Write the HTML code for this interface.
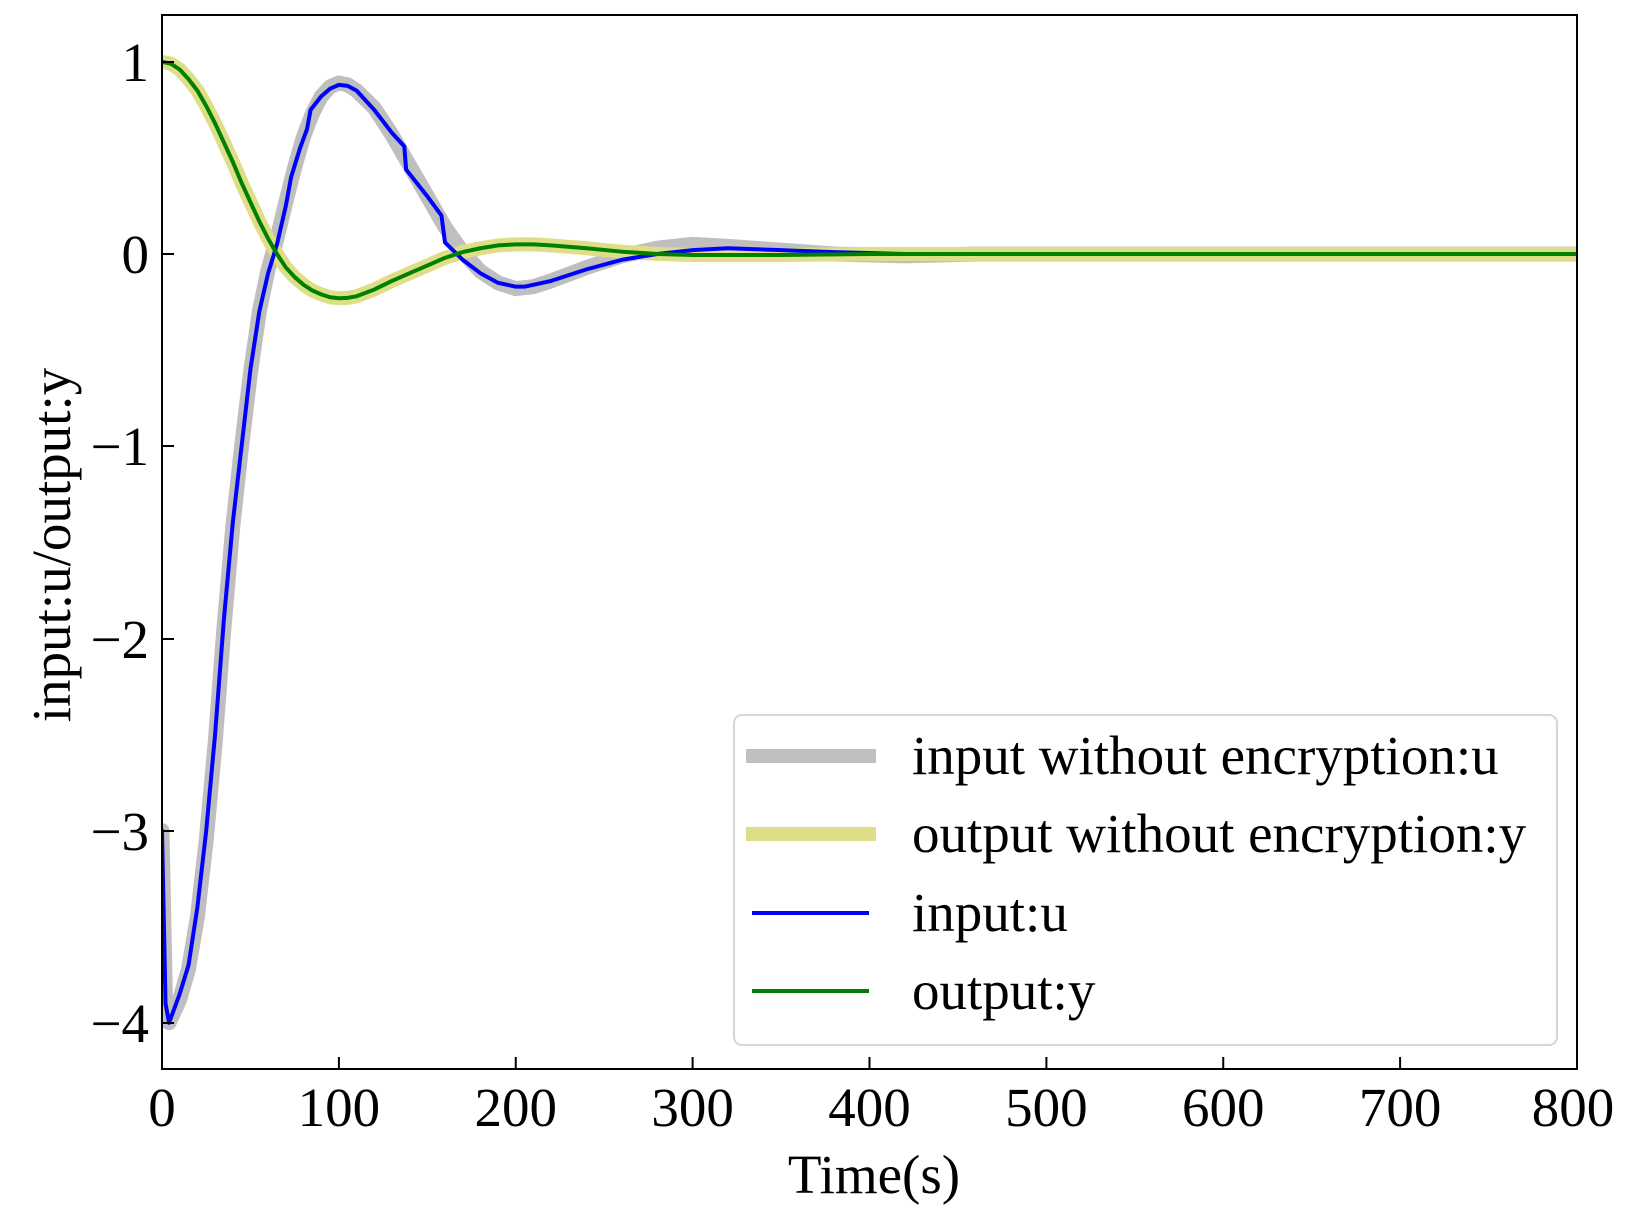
<!DOCTYPE html>
<html><head><meta charset="utf-8"><style>
html,body{margin:0;padding:0;background:#fff;}
svg{display:block;font-family:"Liberation Serif",serif;}
</style></head><body>
<svg width="1633" height="1220" viewBox="0 0 1633 1220" xmlns="http://www.w3.org/2000/svg">
<rect width="1633" height="1220" fill="#fff"/>
<defs><clipPath id="c"><rect x="162" y="15" width="1415" height="1054"/></clipPath></defs>
<g clip-path="url(#c)" fill="none" stroke-linejoin="round" stroke-linecap="round">
<g transform="translate(162,254) scale(1.76875,-192.2)">
<polyline vector-effect="non-scaling-stroke" stroke="#bfbfbf" stroke-width="15" points="0,-3 2,-3.9 4,-4.0 10,-3.88 15,-3.72 20,-3.45 25,-3.05 30,-2.55 35,-1.95 40,-1.42 45,-1.0 50,-0.62 55,-0.3 60,-0.08 65,0.08 70,0.27 75,0.45 80,0.61 85,0.73 90,0.82 95,0.87 100,0.89 105,0.88 110,0.85 120,0.76 130,0.62 140,0.46 150,0.3 160,0.14 170,0.01 180,-0.09 190,-0.15 200,-0.18 210,-0.17 220,-0.14 240,-0.07 260,-0.01 280,0.03 300,0.05 320,0.04 350,0.02 380,0.0 420,-0.01 460,0 800,0"/>
<polyline vector-effect="non-scaling-stroke" stroke="#dede88" stroke-width="14" points="0,1 5,0.99 10,0.96 15,0.91 20,0.85 25,0.77 30,0.68 35,0.58 40,0.48 45,0.37 50,0.27 55,0.17 60,0.08 65,0.0 70,-0.07 75,-0.12 80,-0.16 85,-0.19 90,-0.21 95,-0.225 100,-0.23 105,-0.228 110,-0.22 120,-0.185 130,-0.14 140,-0.1 150,-0.06 160,-0.02 170,0.01 180,0.03 190,0.045 200,0.05 210,0.05 220,0.045 240,0.03 260,0.012 280,0.0 300,-0.005 350,-0.005 400,0 800,0"/>
<polyline vector-effect="non-scaling-stroke" stroke="#0000ff" stroke-width="4" points="0,-3 2,-3.9 4,-4.0 10,-3.85 15,-3.7 20,-3.4 25,-3.0 30,-2.5 35,-1.9 40,-1.4 45,-1.0 50,-0.6 55,-0.3 60,-0.1 65,0.05 70,0.25 73,0.4 78,0.55 82,0.65 84,0.75 90,0.82 95,0.86 100,0.88 105,0.875 110,0.85 120,0.75 130,0.63 137,0.56 138,0.44 150,0.3 158,0.2 160,0.06 170,-0.03 180,-0.1 190,-0.15 200,-0.17 205,-0.17 220,-0.14 240,-0.08 260,-0.03 280,0.0 300,0.02 320,0.03 350,0.02 380,0.01 420,0.0 800,0"/>
<polyline vector-effect="non-scaling-stroke" stroke="#008000" stroke-width="4" points="0,1 5,0.99 10,0.96 15,0.91 20,0.85 25,0.77 30,0.68 35,0.58 40,0.48 45,0.37 50,0.27 55,0.17 60,0.08 65,0.0 70,-0.07 75,-0.12 80,-0.16 85,-0.19 90,-0.21 95,-0.225 100,-0.23 105,-0.228 110,-0.22 120,-0.185 130,-0.14 140,-0.1 150,-0.06 160,-0.02 170,0.01 180,0.03 190,0.045 200,0.05 210,0.05 220,0.045 240,0.03 260,0.012 280,0.0 300,-0.005 350,-0.005 400,0 800,0"/>
</g></g>
<rect x="162" y="15" width="1415" height="1054" fill="none" stroke="#000" stroke-width="2"/>
<g stroke="#000" stroke-width="2">
<line x1="162" y1="62" x2="174" y2="62"/><line x1="162" y1="254" x2="174" y2="254"/><line x1="162" y1="446" x2="174" y2="446"/><line x1="162" y1="639" x2="174" y2="639"/><line x1="162" y1="831" x2="174" y2="831"/><line x1="162" y1="1023" x2="174" y2="1023"/>
<line x1="338.9" y1="1069" x2="338.9" y2="1057"/><line x1="515.75" y1="1069" x2="515.75" y2="1057"/><line x1="692.6" y1="1069" x2="692.6" y2="1057"/><line x1="869.5" y1="1069" x2="869.5" y2="1057"/><line x1="1046.4" y1="1069" x2="1046.4" y2="1057"/><line x1="1223.25" y1="1069" x2="1223.25" y2="1057"/><line x1="1400.1" y1="1069" x2="1400.1" y2="1057"/>
</g>
<g font-size="55" fill="#000" text-anchor="end">
<text x="149" y="81">1</text><text x="149" y="273">0</text><text x="149" y="465">−1</text><text x="149" y="658">−2</text><text x="149" y="850">−3</text><text x="149" y="1042">−4</text>
</g>
<g font-size="55" fill="#000" text-anchor="middle">
<text x="162" y="1126">0</text><text x="338.9" y="1126">100</text><text x="515.75" y="1126">200</text><text x="692.6" y="1126">300</text><text x="869.5" y="1126">400</text><text x="1046.4" y="1126">500</text><text x="1223.25" y="1126">600</text><text x="1400.1" y="1126">700</text><text x="1573" y="1126">800</text>
<text x="874" y="1193">Time(s)</text>
<text transform="translate(70,545) rotate(-90)">input:u/output:y</text>
</g>
<rect x="734" y="715" width="823" height="330" rx="8" fill="#fff" fill-opacity="0.85" stroke="#d6d6d6" stroke-width="2"/>
<g stroke-width="14">
<line x1="746" y1="756" x2="876" y2="756" stroke="#bfbfbf"/>
<line x1="746" y1="834" x2="876" y2="834" stroke="#dede88"/>
</g>
<line x1="752" y1="913" x2="869" y2="913" stroke="#0000ff" stroke-width="4"/>
<line x1="752" y1="991" x2="869" y2="991" stroke="#008000" stroke-width="4"/>
<g font-size="55" fill="#000">
<text x="912" y="774">input without encryption:u</text>
<text x="912" y="852">output without encryption:y</text>
<text x="912" y="931">input:u</text>
<text x="912" y="1009">output:y</text>
</g>
</svg>
</body></html>
